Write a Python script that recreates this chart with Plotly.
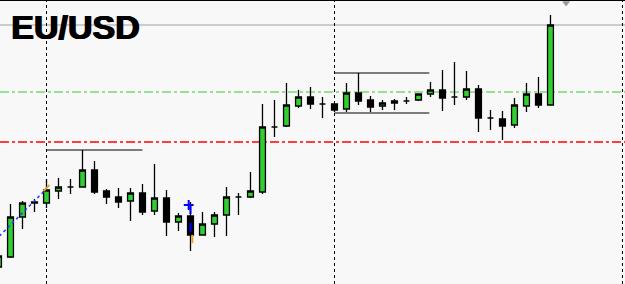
import plotly.graph_objects as go

# Hourly EU/USD candles (prices; no axis shown)
bar_index = list(range(47))
open_ = [1.0517, 1.0527, 1.0567, 1.0581, 1.0581, 1.0593, 1.0597, 1.0597, 1.0614, 1.0593,
         1.0587, 1.0583, 1.0591, 1.0573, 1.0586, 1.0562, 1.0568, 1.0549, 1.0560, 1.0569,
         1.0587, 1.0587, 1.0592, 1.0657, 1.0658, 1.0678, 1.0687, 1.0680, 1.0680, 1.0675,
         1.0691, 1.0684, 1.0678, 1.0681, 1.0683, 1.0684, 1.0690, 1.0694, 1.0687, 1.0687,
         1.0695, 1.0666, 1.0665, 1.0659, 1.0678, 1.0690, 1.0679]
high_ = [1.0530, 1.0580, 1.0583, 1.0585, 1.0605, 1.0606, 1.0605, 1.0634, 1.0623, 1.0595,
         1.0596, 1.0596, 1.0600, 1.0620, 1.0594, 1.0571, 1.0582, 1.0572, 1.0572, 1.0597,
         1.0591, 1.0612, 1.0680, 1.0684, 1.0701, 1.0694, 1.0697, 1.0687, 1.0680, 1.0701,
         1.0711, 1.0688, 1.0684, 1.0685, 1.0687, 1.0690, 1.0702, 1.0714, 1.0722, 1.0713,
         1.0699, 1.0674, 1.0673, 1.0686, 1.0701, 1.0707, 1.0769]
low_ = [1.0515, 1.0526, 1.0555, 1.0572, 1.0576, 1.0585, 1.0590, 1.0597, 1.0590, 1.0580,
        1.0576, 1.0563, 1.0569, 1.0569, 1.0548, 1.0553, 1.0533, 1.0549, 1.0547, 1.0548,
        1.0569, 1.0586, 1.0590, 1.0647, 1.0657, 1.0676, 1.0675, 1.0666, 1.0672, 1.0672,
        1.0679, 1.0672, 1.0674, 1.0674, 1.0680, 1.0683, 1.0687, 1.0673, 1.0679, 1.0684,
        1.0652, 1.0654, 1.0644, 1.0656, 1.0672, 1.0676, 1.0679]
close_ = [1.0528, 1.0567, 1.0581, 1.0582, 1.0594, 1.0597, 1.0597, 1.0614, 1.0592, 1.0587,
          1.0582, 1.0591, 1.0572, 1.0586, 1.0562, 1.0568, 1.0549, 1.0560, 1.0569, 1.0587,
          1.0587, 1.0593, 1.0657, 1.0657, 1.0679, 1.0687, 1.0680, 1.0680, 1.0674, 1.0691,
          1.0683, 1.0677, 1.0681, 1.0683, 1.0683, 1.0690, 1.0694, 1.0686, 1.0687, 1.0695,
          1.0666, 1.0666, 1.0658, 1.0679, 1.0690, 1.0679, 1.0759]

# Reference levels
level_gray = 1.0759
level_green = 1.0692
level_red = 1.0642
# Day separators (bar positions)
day_separators = [4, 28, 52]
# Range boxes / resistance segments: (x0, x1, price)
segments = [(4, 12, 1.0634), (28, 35.9, 1.0711), (28, 35.9, 1.0671)]
# Trade markers
trend_x = [-1, 3.9]
trend_y = [1.0535, 1.0594]
trade_x = 16
trade_open = 1.0579
trade_close = 1.0545
arrow_marker = (47.3, 1.0781)

fig = go.Figure()

fig.add_trace(go.Candlestick(
    x=bar_index, open=open_, high=high_, low=low_, close=close_,
    increasing=dict(line=dict(color="#000000", width=1.3), fillcolor="#32CD32"),
    decreasing=dict(line=dict(color="#000000", width=1.3), fillcolor="#000000"),
    whiskerwidth=0, showlegend=False, hoverinfo="skip",
))

# trend line (blue dotted)
fig.add_trace(go.Scatter(x=trend_x, y=trend_y, mode="lines",
                         line=dict(color="#1f3fff", width=1.5, dash="dot"),
                         showlegend=False, hoverinfo="skip"))
fig.add_trace(go.Scatter(x=[trend_x[1] + 0.1], y=[trend_y[1] + 0.0002], mode="markers",
                         marker=dict(symbol="line-ne", color="#f0a020", size=6,
                                     line=dict(color="#f0a020", width=2)),
                         showlegend=False, hoverinfo="skip"))
# trade: vertical blue dashed, blue + at open, orange at close
fig.add_trace(go.Scatter(x=[trade_x, trade_x], y=[trade_open, trade_close], mode="lines",
                         line=dict(color="#0000ff", width=2, dash="dash"),
                         showlegend=False, hoverinfo="skip"))
fig.add_trace(go.Scatter(x=[trade_x - 0.15], y=[trade_open], mode="markers",
                         marker=dict(symbol="cross-thin", color="#0000ff", size=7,
                                     line=dict(color="#0000ff", width=2)),
                         showlegend=False, hoverinfo="skip"))
fig.add_trace(go.Scatter(x=[trade_x + 0.15], y=[trade_close], mode="markers",
                         marker=dict(symbol="line-ns", color="#f0a020", size=6,
                                     line=dict(color="#f0a020", width=2)),
                         showlegend=False, hoverinfo="skip"))
fig.add_trace(go.Scatter(x=[arrow_marker[0]], y=[arrow_marker[1]], mode="markers",
                         marker=dict(symbol="triangle-down", color="#999999", size=7),
                         showlegend=False, hoverinfo="skip"))

shapes = []
shapes.append(dict(type="line", xref="paper", x0=0, x1=1, yref="y", y0=level_gray, y1=level_gray,
                   line=dict(color="#a0a0a0", width=1), layer="below"))
shapes.append(dict(type="line", xref="paper", x0=0, x1=1, yref="y", y0=level_green, y1=level_green,
                   line=dict(color="#33cc33", width=1, dash="dashdot"), layer="below"))
shapes.append(dict(type="line", xref="paper", x0=0, x1=1, yref="y", y0=level_red, y1=level_red,
                   line=dict(color="#ff0000", width=1.3, dash="dashdot"), layer="below"))
for d in day_separators:
    shapes.append(dict(type="line", xref="x", x0=d, x1=d, yref="paper", y0=0, y1=1,
                       line=dict(color="#000000", width=1, dash="dot"), layer="below"))
for x0, x1, p in segments:
    shapes.append(dict(type="line", xref="x", x0=x0, x1=x1, yref="y", y0=p, y1=p,
                       line=dict(color="#000000", width=1.2), layer="below"))
shapes.append(dict(type="line", xref="paper", x0=0, x1=1, yref="paper", y0=1, y1=1,
                   line=dict(color="#000000", width=2)))

fig.update_layout(
    width=625, height=284,
    margin=dict(l=0, r=0, t=0, b=0),
    paper_bgcolor="#f8f8f8", plot_bgcolor="#f8f8f8",
    shapes=shapes,
    xaxis=dict(range=[0.125, 52.21], visible=False, rangeslider=dict(visible=False),
               fixedrange=True),
    yaxis=dict(range=[1.0500, 1.0784], visible=False, fixedrange=True),
    annotations=[dict(text="<b>EU/USD</b>", xref="paper", yref="paper", x=0.015, y=0.98,
                      xanchor="left", yanchor="top", showarrow=False,
                      font=dict(family="Liberation Sans, Arial, sans-serif", size=34,
                                color="#000000",
                                shadow="1px 0px 0px #000, -0.5px 0px 0px #000"))],
)

fig.write_html("out.html")
